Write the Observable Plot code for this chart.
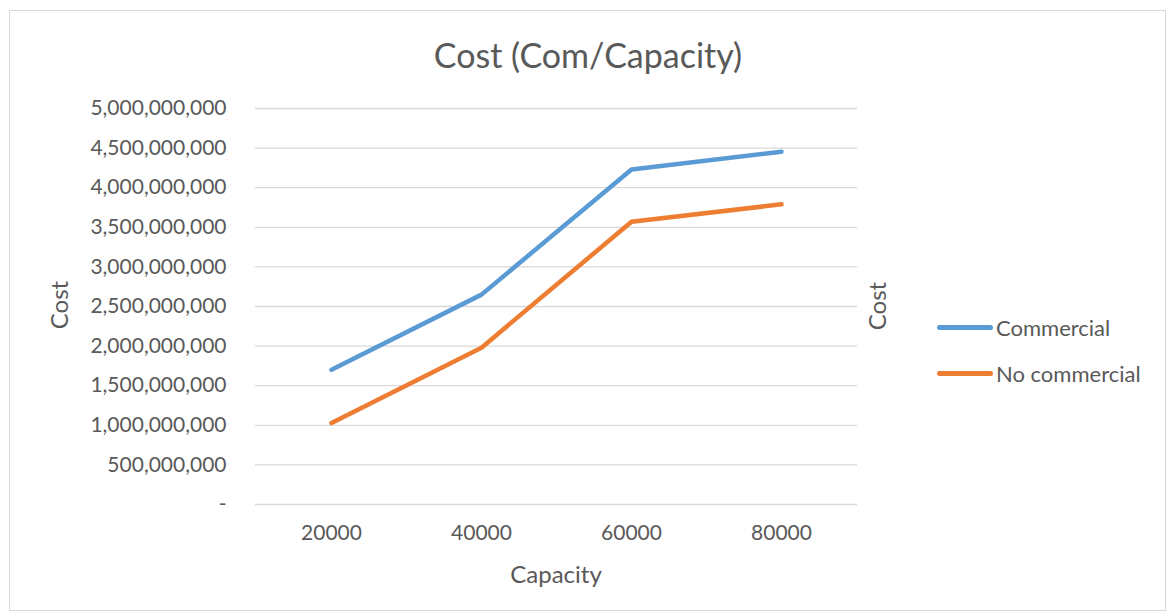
<!DOCTYPE html>
<html>
<head>
<meta charset="utf-8">
<script src="https://cdn.jsdelivr.net/npm/d3@7"></script>
<script src="https://cdn.jsdelivr.net/npm/@observablehq/plot@0.6"></script>
<style>
  html, body { margin: 0; padding: 0; background: #fff; }
  #wrap { position: relative; width: 1170px; height: 615px; font-family: Lato, "Open Sans", sans-serif; color: #595959; overflow: hidden; }
  #frame { position: absolute; left: 9px; top: 10px; width: 1157px; height: 601px; border: 1.3px solid #d9d9d9; box-sizing: border-box; }
  #chart { position: absolute; left: 0; top: 0; }
  .lbl { position: absolute; white-space: nowrap; line-height: 1; }
  #title { left: 0; width: 1176px; top: 38px; text-align: center; font-size: 34px; }
  #xlab { left: 0; width: 1112px; top: 562px; text-align: center; font-size: 24px; }
  .ylab { font-size: 24px; transform-origin: center center; transform: translate(-50%, -50%) rotate(-90deg); }
  #legend { position: absolute; left: 937px; top: 314px; }
  .item { display: flex; align-items: center; height: 27px; margin-bottom: 19px; font-size: 22px; }
  .sw { width: 56px; height: 5px; border-radius: 3px; margin-right: 3px; }
</style>
</head>
<body>
<div id="wrap">
  <div id="frame"></div>
  <div id="chart"></div>
  <div id="title" class="lbl"></div>
  <div id="xlab" class="lbl"></div>
  <div id="ylabL" class="lbl ylab" style="left:59px; top:305px;"></div>
  <div id="ylabR" class="lbl ylab" style="left:877px; top:306px;"></div>
  <div id="legend"></div>
</div>
<script>
// ---- data ----
const titleText = "Cost (Com/Capacity)";
const xTitle = "Capacity";
const yTitle = "Cost";
const capacity = ["20000", "40000", "60000", "80000"];
const commercial = [1.70e9, 2.65e9, 4.23e9, 4.455e9];
const noCommercial = [1.03e9, 1.98e9, 3.57e9, 3.79e9];
const seriesNames = ["Commercial", "No commercial"];
const seriesColors = ["#5B9BD5", "#ED7D31"];
const yTicks = [0, 5e8, 1e9, 1.5e9, 2e9, 2.5e9, 3e9, 3.5e9, 4e9, 4.5e9, 5e9];

const rows = [];
capacity.forEach((c, i) => {
  rows.push({capacity: c, series: seriesNames[0], cost: commercial[i]});
});
capacity.forEach((c, i) => {
  rows.push({capacity: c, series: seriesNames[1], cost: noCommercial[i]});
});

const fmt = d3.format(",");
const chart = Plot.plot({
  width: 1170,
  height: 615,
  marginLeft: 255,
  marginRight: 313,
  marginTop: 108,
  marginBottom: 111,
  style: {fontFamily: "Lato, 'Open Sans', sans-serif", fontSize: "21px", color: "#595959", background: "transparent", overflow: "visible"},
  x: {type: "point", domain: capacity, padding: 0.5, label: null, tickSize: 0, tickPadding: 21},
  y: {domain: [0, 5e9], ticks: yTicks, tickFormat: d => d === 0 ? "-" : fmt(d), label: null, tickSize: 0, tickPadding: 29},
  color: {domain: seriesNames, range: seriesColors},
  marks: [
    Plot.ruleY(yTicks, {stroke: "#d9d9d9", strokeWidth: 1.3}),
    Plot.lineY(rows, {x: "capacity", y: "cost", z: "series", stroke: "series", strokeWidth: 4.5, strokeLinecap: "round", strokeLinejoin: "round"})
  ]
});
document.getElementById("chart").appendChild(chart);

document.getElementById("title").textContent = titleText;
document.getElementById("xlab").textContent = xTitle;
document.getElementById("ylabL").textContent = yTitle;
document.getElementById("ylabR").textContent = yTitle;

const legend = document.getElementById("legend");
seriesNames.forEach((name, i) => {
  const item = document.createElement("div");
  item.className = "item";
  const sw = document.createElement("div");
  sw.className = "sw";
  sw.style.background = seriesColors[i];
  const t = document.createElement("span");
  t.textContent = name;
  item.appendChild(sw);
  item.appendChild(t);
  legend.appendChild(item);
});
</script>
</body>
</html>
